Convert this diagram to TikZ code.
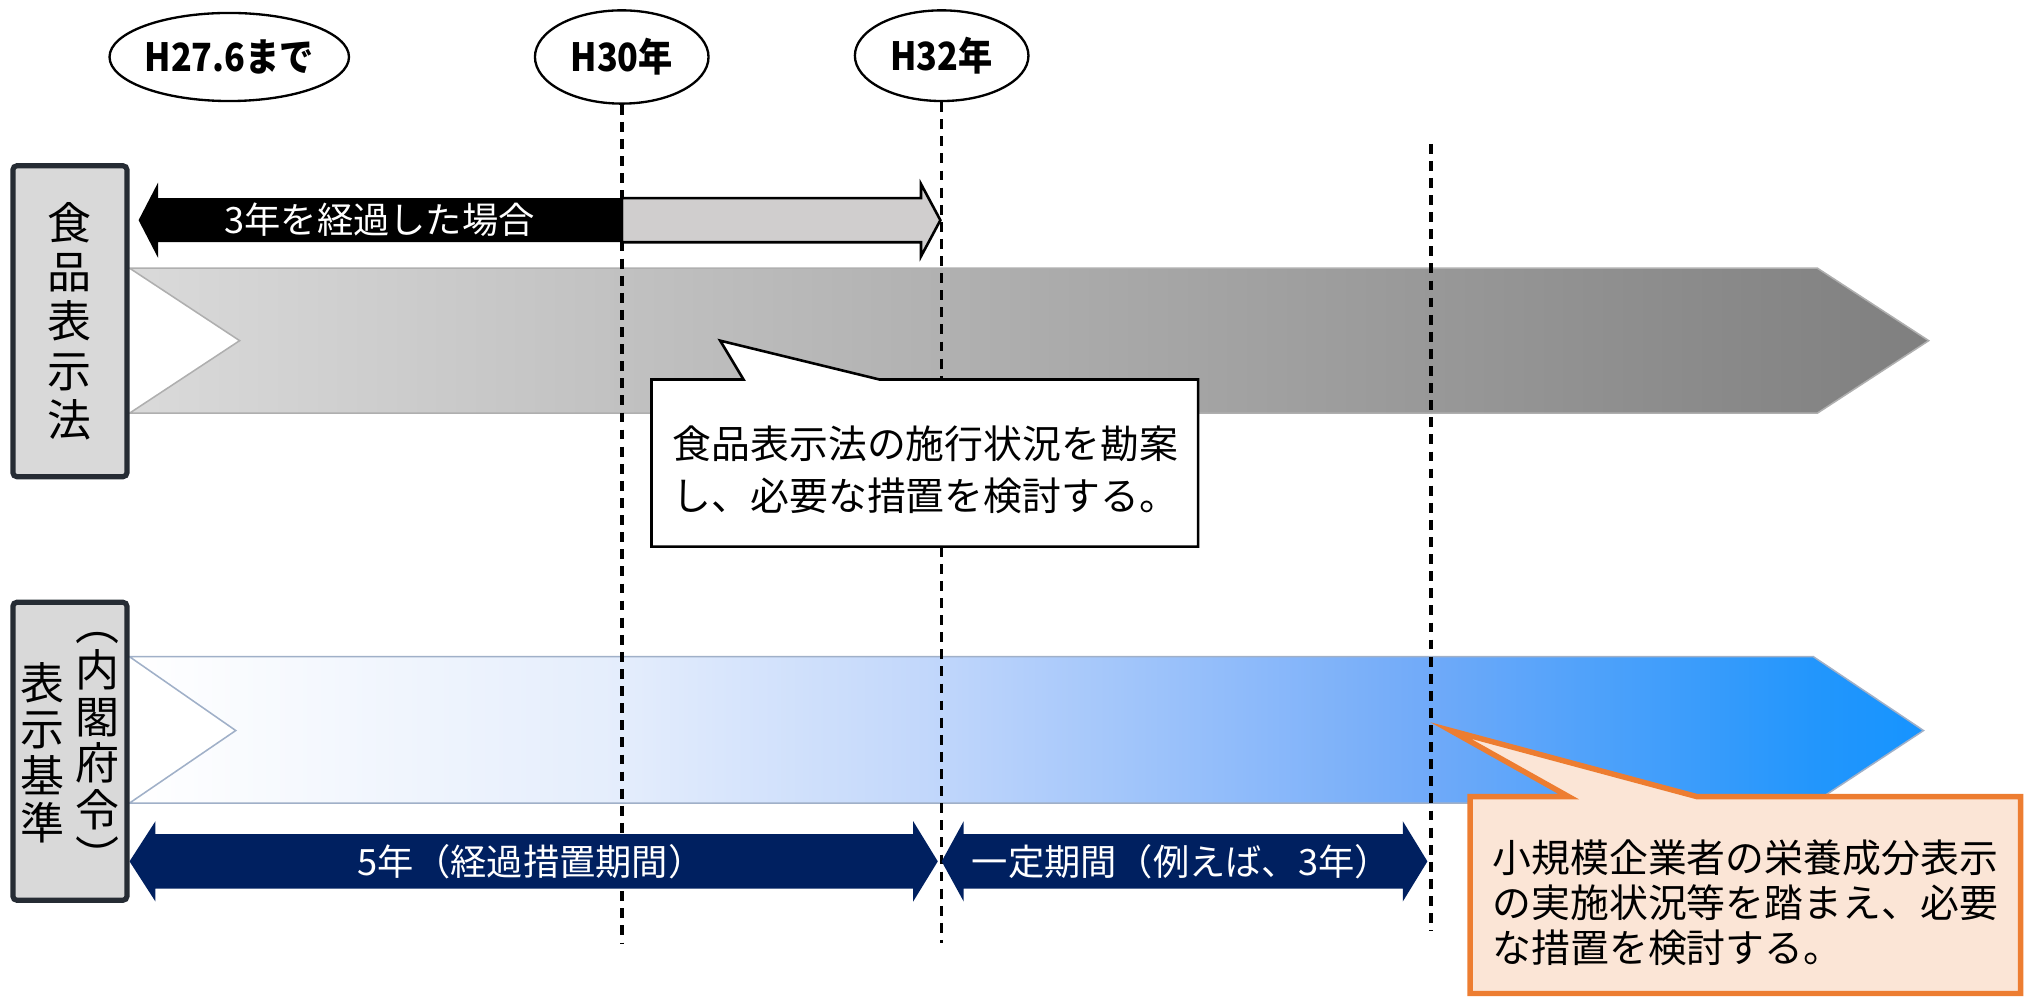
\documentclass[tikz,border=0pt]{standalone}
\usepackage{fontspec}
\setmainfont{Noto Sans CJK JP}
\newfontfamily\ellfont{Noto Sans CJK JP}[FakeStretch=0.88]
\usetikzlibrary{shapes.geometric}
\definecolor{navy}{RGB}{0,32,96}
\definecolor{boxfill}{RGB}{217,217,217}
\definecolor{boxedge}{RGB}{38,44,52}
\definecolor{arrowgrey}{RGB}{208,206,206}
\definecolor{orangeedge}{RGB}{237,125,49}
\definecolor{orangefill}{RGB}{251,229,214}
\definecolor{bandgreyL}{RGB}{218,218,218}
\definecolor{bandgreyR}{RGB}{127,127,127}
\definecolor{bandgreyedge}{RGB}{175,175,175}
\definecolor{bandblueedge}{RGB}{160,176,200}
\definecolor{bl1}{RGB}{228,237,252}
\definecolor{bl2}{RGB}{192,214,251}
\definecolor{bl3}{RGB}{112,170,249}
\definecolor{bl4}{RGB}{34,150,252}
\definecolor{bl5}{RGB}{22,148,255}
\pgfdeclarehorizontalshading{blueband}{100bp}{color(0bp)=(white); color(25bp)=(white); color(38.7bp)=(bl1); color(47.6bp)=(bl2); color(61.2bp)=(bl3); color(72bp)=(bl4); color(75bp)=(bl5); color(100bp)=(bl5)}
\begin{document}
\begin{tikzpicture}[x=0.5pt,y=-0.5pt,
  greyband/.style={draw=bandgreyedge, line width=0.6pt, left color=bandgreyL, right color=bandgreyR},
  blueband/.style={draw=bandblueedge, line width=0.6pt, shading=blueband},
  dashline/.style={black, line width=1.4pt, dash pattern=on 3.8pt off 2.8pt},
  ell/.style={ellipse, draw=black, line width=0.9pt, fill=white, inner sep=0pt, font=\ellfont\bfseries\fontsize{15}{17}\selectfont},
  labelbox/.style={draw=boxedge, line width=2pt, fill=boxfill, rounded corners=1.5pt, inner sep=0pt, align=center, font=\fontsize{17}{19}\selectfont},
  arrowtext/.style={text=white, inner sep=0pt, font=\fontsize{14}{16}\selectfont},
  calltext/.style={anchor=west, align=left, inner sep=0pt},
  callone/.style={draw=black, line width=1pt, fill=white},
  calltwo/.style={draw=orangeedge, line width=2.1pt, fill=orangefill}
]
\useasboundingbox (0,0) rectangle (1568,770);

% big bands
\draw[greyband] (100,207) -- (1403,207) -- (1489,263) -- (1403,319) -- (100,319) -- (185,263) -- cycle;
\draw[blueband] (100,507) -- (1400,507) -- (1485,564) -- (1400,620) -- (100,620) -- (182,564) -- cycle;

% ellipses
\node[ell, minimum width=85pt, minimum height=34pt] (eA) at (177,44) {H27.6まで};
\node[ell, minimum width=67pt, minimum height=36pt] (eB) at (480,44) {H30年};
\node[ell, minimum width=67pt, minimum height=35pt] (eC) at (727,43) {H32年};

% dashed lines
\coordinate (dBbot) at (480,728);
\coordinate (dCbot) at (727,728);
\coordinate (dDtop) at (1105,111);
\coordinate (dDbot) at (1105,719);
\draw[dashline] (eB.south) -- (dBbot);
\draw[dashline] (eC.south) -- (dCbot);
\draw[dashline] (dDtop) -- (dDbot);

% black / grey double arrow
\draw[fill=arrowgrey, draw=black, line width=1pt] (480,153) -- (711,153) -- (711,142) -- (726,170) -- (711,198) -- (711,187) -- (480,187) -- cycle;
\fill[black] (481,153) -- (122,153) -- (122,141) -- (107,170) -- (122,199) -- (122,187) -- (481,187) -- cycle;
\node[arrowtext] (t3) at (293,170) {3年を経過した場合};

% navy double arrows
\fill[navy] (100,665) -- (120,634) -- (120,644) -- (705,644) -- (705,634) -- (724,665) -- (705,696) -- (705,686) -- (120,686) -- (120,696) -- cycle;
\node[arrowtext] (t5) at (410,665) {5年（経過措置期間）};
\fill[navy] (727,665) -- (744,634) -- (744,644) -- (1083,644) -- (1083,634) -- (1102,665) -- (1083,696) -- (1083,686) -- (744,686) -- (744,696) -- cycle;
\node[arrowtext] (t3b) at (912,665) {一定期間（例えば、3年）};

% callout 1
\draw[callone] (503,293) -- (574,293) -- (556,263) -- (679,293) -- (925,293) -- (925,422) -- (503,422) -- cycle;
\node[calltext, font=\fontsize{15}{20}\selectfont] (c1) at (519,363) {食品表示法の施行状況を勘案\\し、必要な措置を検討する。};

% callout 2
\draw[calltwo] (1135,615) -- (1211,615) -- (1120,564) -- (1310,615) -- (1560,615) -- (1560,767) -- (1135,767) -- cycle;
\node[calltext, font=\fontsize{15}{17.5}\selectfont] (c2) at (1152,697) {小規模企業者の栄養成分表示\\の実施状況等を踏まえ、必要\\な措置を検討する。};

% label boxes
\node[labelbox, minimum width=44pt, minimum height=120pt] (lab1) at (54,248) {食\\品\\表\\示\\法};
\node[labelbox, minimum width=44pt, minimum height=115pt] (lab2) at (54,580) {};
\node[inner sep=0pt, align=center, font=\fontsize{17}{18}\selectfont] (lab2a) at (33,581) {表\\示\\基\\準};
\node[inner sep=0pt, align=center, font=\fontsize{17}{18}\selectfont] (lab2b) at (75,581) {︵\\内\\閣\\府\\令\\︶};
\end{tikzpicture}
\end{document}
